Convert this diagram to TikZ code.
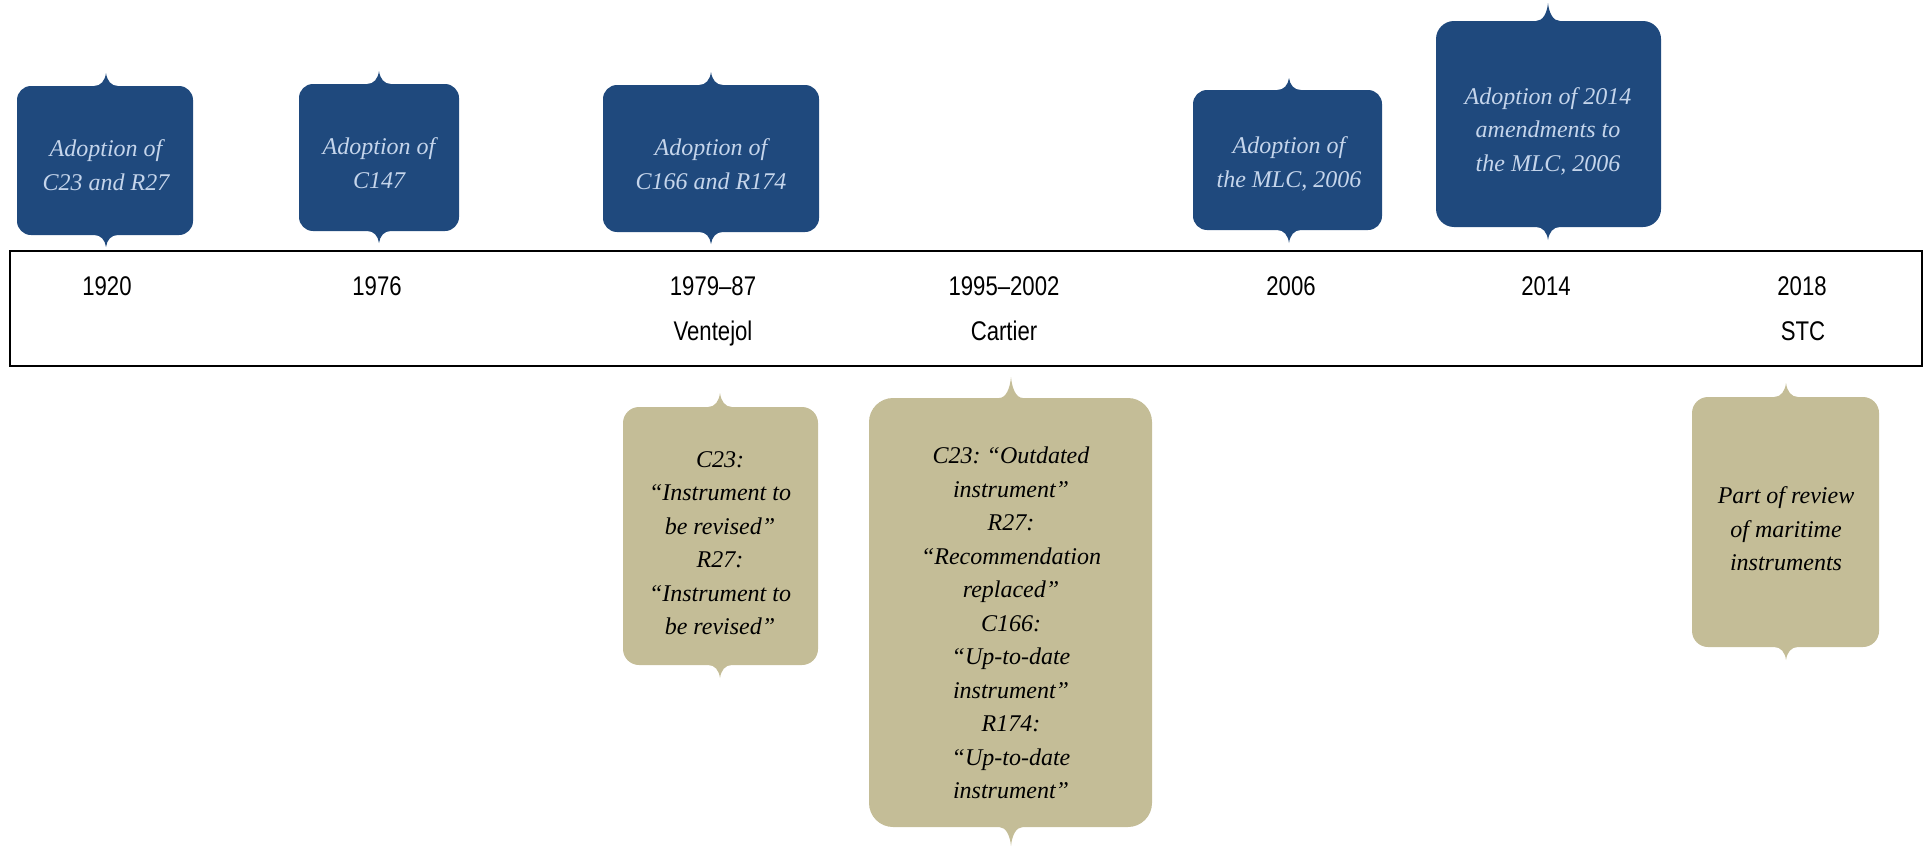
\documentclass[tikz,border=0pt]{standalone}
\usepackage{fontspec}
\newfontfamily\yearfont[FakeStretch=0.82]{Liberation Sans}
\newfontfamily\boxfont{Liberation Serif}
\definecolor{boxblue}{RGB}{31,73,125}
\definecolor{boxtan}{RGB}{196,189,151}
\definecolor{bluetext}{RGB}{197,213,235}
% #1 fill, #2 x1, #3 y1, #4 x2, #5 y2, #6 notch x, #7 top tip, #8 bottom tip, #9 radius
\newcommand\tagshape[9]{%
  \fill[#1] ({#2},{#3+#9})
    .. controls ({#2},{#3+0.45*#9}) and ({#2+0.45*#9},{#3}) .. ({#2+#9},{#3})
    -- ({#6-12},{#3})
    .. controls ({#6-5},{#3}) and ({#6-1},{(#3+#7)/2+1}) .. ({#6},{#7})
    .. controls ({#6+1},{(#3+#7)/2+1}) and ({#6+5},{#3}) .. ({#6+12},{#3})
    -- ({#4-#9},{#3})
    .. controls ({#4-0.45*#9},{#3}) and ({#4},{#3+0.45*#9}) .. ({#4},{#3+#9})
    -- ({#4},{#5-#9})
    .. controls ({#4},{#5-0.45*#9}) and ({#4-0.45*#9},{#5}) .. ({#4-#9},{#5})
    -- ({#6+12},{#5})
    .. controls ({#6+5},{#5}) and ({#6+1},{(#5+#8)/2-1}) .. ({#6},{#8})
    .. controls ({#6-1},{(#5+#8)/2-1}) and ({#6-5},{#5}) .. ({#6-12},{#5})
    -- ({#2+#9},{#5})
    .. controls ({#2+0.45*#9},{#5}) and ({#2},{#5-0.45*#9}) .. ({#2},{#5-#9})
    -- cycle;}
\tikzset{
  bluelabel/.style={align=center, text=bluetext, font=\boxfont\itshape\frenchspacing\fontsize{12}{16.75}\selectfont, inner sep=0pt},
  tanlabel/.style={align=center, text=black, font=\boxfont\itshape\frenchspacing\fontsize{12}{16.75}\selectfont, inner sep=0pt},
  yearlabel/.style={anchor=base, font=\yearfont\fontsize{13.5}{16}\selectfont, inner sep=0pt},
}
\begin{document}
\begin{tikzpicture}[x=0.5pt,y=-0.5pt]
\useasboundingbox (0,0) rectangle (1930,846);
% timeline band
\node[draw=black, line width=1.25pt, minimum width=956pt, minimum height=57.5pt, inner sep=0pt] (band) at (966,308.5) {};
% blue boxes
\tagshape{boxblue}{17}{86}{193}{235}{106}{73}{247}{14}
\tagshape{boxblue}{299}{84}{459}{231}{379}{71}{243}{14}
\tagshape{boxblue}{603}{85}{819}{232}{711}{72}{244}{14}
\tagshape{boxblue}{1193}{90}{1382}{230}{1289}{78}{243}{14}
\tagshape{boxblue}{1436}{21}{1661}{227}{1548}{3}{240}{18}
% tan boxes
\tagshape{boxtan}{623}{407}{818}{665}{720}{393}{678}{16}
\tagshape{boxtan}{869}{398}{1152}{827}{1011}{377}{846}{24}
\tagshape{boxtan}{1692}{397}{1879}{647}{1786}{383}{660}{16}
% box texts
\node[bluelabel] (t1920) at (106,165) {Adoption of\\C23 and R27};
\node[bluelabel] (t1976) at (379,163) {Adoption of\\C147};
\node[bluelabel] (t1979) at (711,164) {Adoption of\\C166 and R174};
\node[bluelabel] (t2006) at (1289,164) {Adoption of\\the MLC, 2006};
\node[bluelabel] (t2014) at (1548,131) {Adoption of 2014\\amendments to\\the MLC, 2006};
\node[tanlabel] (v) at (720,543) {C23:\\“Instrument to\\be revised”\\R27:\\“Instrument to\\be revised”};
\node[tanlabel] (c) at (1011,623) {C23: “Outdated\\instrument”\\R27:\\“Recommendation\\replaced”\\C166:\\“Up-to-date\\instrument”\\R174:\\“Up-to-date\\instrument”};
\node[tanlabel] (s) at (1786,529) {Part of review\\of maritime\\instruments};
% year labels
\node[yearlabel] (y1920) at (107,295) {1920};
\node[yearlabel] (y1976) at (377,295) {1976};
\node[yearlabel] (y1979) at (713,295) {1979–87};
\node[yearlabel] (n1979) at (713,340) {Ventejol};
\node[yearlabel] (y1995) at (1004,295) {1995–2002};
\node[yearlabel] (n1995) at (1004,340) {Cartier};
\node[yearlabel] (y2006) at (1291,295) {2006};
\node[yearlabel] (y2014) at (1546,295) {2014};
\node[yearlabel] (y2018) at (1802,295) {2018};
\node[yearlabel] (n2018) at (1803,340) {STC};
\end{tikzpicture}
\end{document}
